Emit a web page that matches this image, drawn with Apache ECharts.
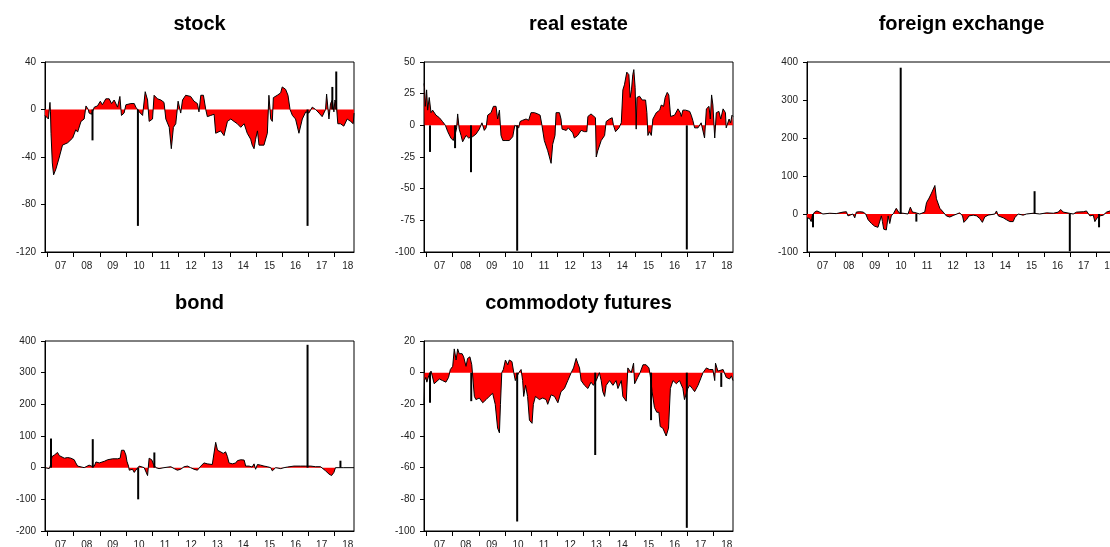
<!DOCTYPE html>
<html><head><meta charset="utf-8">
<script src="https://cdn.jsdelivr.net/npm/echarts@6/dist/echarts.min.js"></script>
<style>html,body{margin:0;padding:0;background:#fff}#c{width:1110px;height:547px}</style>
</head><body><div id="c"></div>
<script>
const titles = ['stock', 'real estate', 'foreign exchange', 'bond', 'commodoty futures'];
const yearTicks = [2007, 2008, 2009, 2010, 2011, 2012, 2013, 2014, 2015, 2016, 2017, 2018];
const yearLabels = ['07', '08', '09', '10', '11', '12', '13', '14', '15', '16', '17', '18'];

// [decimal year, value]
const stock = [[2006.9,-5],[2007.03,-8],[2007.08,-8],[2007.09,6],[2007.11,-2],[2007.13,-20],[2007.18,-45],[2007.23,-55],[2007.32,-50],[2007.45,-40],[2007.57,-30],[2007.77,-28],[2007.96,-24],[2008.08,-17],[2008.15,-19],[2008.28,-10],[2008.40,-8],[2008.47,3],[2008.56,0],[2008.59,-3],[2008.68,-4],[2008.79,2],[2008.91,3],[2009.02,7],[2009.10,4],[2009.23,9],[2009.36,9],[2009.45,5],[2009.55,8],[2009.68,2],[2009.77,11],[2009.83,-5],[2009.93,-3],[2010.00,4],[2010.19,5],[2010.32,5],[2010.38,2],[2010.51,-2],[2010.64,-5],[2010.74,15],[2010.83,8],[2010.89,-10],[2011.02,-8],[2011.08,12],[2011.21,9],[2011.34,8],[2011.46,6],[2011.53,-8],[2011.66,-15],[2011.74,-33],[2011.82,-15],[2011.91,-12],[2012.00,7],[2012.10,-3],[2012.17,8],[2012.29,12],[2012.48,11],[2012.61,7],[2012.74,5],[2012.80,-2],[2012.87,12],[2012.97,12],[2013.06,0],[2013.12,-6],[2013.25,-5],[2013.38,-4],[2013.44,-20],[2013.63,-18],[2013.76,-22],[2013.89,-10],[2014.02,-8],[2014.14,-10],[2014.27,-12],[2014.40,-15],[2014.53,-12],[2014.65,-20],[2014.78,-25],[2014.84,-30],[2014.91,-33],[2014.97,-25],[2015.04,-18],[2015.10,-30],[2015.29,-30],[2015.42,-20],[2015.48,12],[2015.55,-8],[2015.61,-10],[2015.65,10],[2015.80,12],[2015.93,14],[2015.99,19],[2016.12,17],[2016.21,12],[2016.29,0],[2016.38,-5],[2016.50,-8],[2016.63,-20],[2016.76,-8],[2016.89,-2],[2017.01,-3],[2017.14,2],[2017.27,0],[2017.40,-3],[2017.52,-6],[2017.65,0],[2017.69,13],[2017.78,-8],[2017.84,5],[2017.91,8],[2017.97,-2],[2018.01,8],[2018.06,5],[2018.12,-12],[2018.22,-12],[2018.35,-14],[2018.48,-8],[2018.61,-10],[2018.71,-12],[2018.74,-3]];
const stockSpikes = [[2008.72,-26],[2010.46,-98],[2016.96,-98],[2017.91,19],[2018.06,32]];

const realEstate = [[2006.9,33],[2006.92,30],[2006.95,15],[2007.00,28],[2007.04,12],[2007.10,22],[2007.17,10],[2007.23,12],[2007.36,8],[2007.49,6],[2007.61,3],[2007.72,0],[2007.81,-5],[2007.93,-10],[2008.02,-12],[2008.12,-5],[2008.15,-2],[2008.19,9],[2008.25,-3],[2008.32,-8],[2008.38,-13],[2008.51,-8],[2008.61,-10],[2008.76,-9],[2008.89,-7],[2009.02,-3],[2009.12,2],[2009.21,-4],[2009.28,-2],[2009.34,8],[2009.47,10],[2009.56,15],[2009.66,15],[2009.72,5],[2009.79,12],[2009.85,-8],[2009.92,-12],[2010.04,-12],[2010.17,-12],[2010.30,-9],[2010.38,0],[2010.53,-2],[2010.58,3],[2010.68,4],[2010.81,5],[2010.91,4],[2011.00,10],[2011.13,10],[2011.26,9],[2011.35,8],[2011.42,0],[2011.51,-12],[2011.64,-20],[2011.77,-30],[2011.83,-15],[2011.92,-8],[2011.96,10],[2012.09,10],[2012.15,5],[2012.19,-3],[2012.35,-4],[2012.43,-2],[2012.51,-4],[2012.60,-6],[2012.66,-10],[2012.79,-8],[2012.92,-4],[2013.05,-5],[2013.14,-5],[2013.18,7],[2013.30,9],[2013.47,6],[2013.50,-25],[2013.56,-20],[2013.69,-12],[2013.82,-8],[2013.88,3],[2014.01,5],[2014.11,6],[2014.16,0],[2014.24,-5],[2014.37,-2],[2014.46,2],[2014.52,28],[2014.58,32],[2014.67,42],[2014.75,40],[2014.80,22],[2014.85,28],[2014.90,40],[2014.94,44],[2014.99,30],[2015.03,-3],[2015.06,22],[2015.16,23],[2015.26,20],[2015.39,20],[2015.44,10],[2015.48,-8],[2015.54,-5],[2015.61,-8],[2015.67,5],[2015.80,10],[2015.93,12],[2015.99,16],[2016.08,15],[2016.14,22],[2016.22,26],[2016.28,24],[2016.35,7],[2016.50,8],[2016.63,13],[2016.72,10],[2016.76,7],[2016.82,12],[2016.92,12],[2017.08,11],[2017.14,8],[2017.20,4],[2017.27,-2],[2017.40,-2],[2017.52,2],[2017.59,1],[2017.65,-10],[2017.72,13],[2017.82,15],[2017.87,5],[2017.92,24],[2017.97,16],[2018.04,-10],[2018.10,10],[2018.20,11],[2018.27,5],[2018.36,13],[2018.45,10],[2018.48,-2],[2018.59,5],[2018.65,2],[2018.70,8],[2018.74,7]];
const realEstateSpikes = [[2007.13,-21],[2008.09,-18],[2008.70,-37],[2010.47,-99],[2016.97,-98]];

const forex = [[2006.9,-10],[2006.94,-15],[2007.00,-12],[2007.06,-20],[2007.10,-5],[2007.19,5],[2007.28,8],[2007.38,5],[2007.51,0],[2007.77,2],[2008.02,1],[2008.28,5],[2008.41,6],[2008.47,-5],[2008.53,-10],[2008.66,0],[2008.73,-10],[2008.79,5],[2008.92,6],[2009.05,5],[2009.15,0],[2009.24,-15],[2009.37,-25],[2009.49,-32],[2009.62,-35],[2009.69,-30],[2009.75,-5],[2009.79,-20],[2009.84,-40],[2009.94,-42],[2010.01,-5],[2010.07,-25],[2010.13,-5],[2010.22,2],[2010.32,15],[2010.43,3],[2010.58,2],[2010.77,0],[2010.86,18],[2010.94,5],[2011.03,4],[2011.22,0],[2011.41,5],[2011.48,30],[2011.58,42],[2011.67,55],[2011.73,60],[2011.80,75],[2011.86,40],[2011.92,38],[2011.99,15],[2012.12,5],[2012.24,-5],[2012.37,-8],[2012.50,-4],[2012.75,3],[2012.86,-5],[2012.91,-22],[2013.01,-15],[2013.11,-5],[2013.27,-3],[2013.40,-5],[2013.52,-12],[2013.62,-22],[2013.71,-8],[2013.84,-3],[2014.10,0],[2014.16,8],[2014.23,-5],[2014.42,-10],[2014.54,-15],[2014.67,-20],[2014.74,-15],[2014.80,-20],[2014.86,-10],[2014.99,0],[2015.06,3],[2015.18,-3],[2015.31,0],[2015.57,2],[2015.82,0],[2016.08,3],[2016.34,2],[2016.53,5],[2016.62,12],[2016.72,5],[2016.78,0],[2017.10,0],[2017.23,5],[2017.49,6],[2017.61,8],[2017.74,-5],[2017.87,-3],[2017.93,-20],[2018.02,-10],[2018.13,-5],[2018.25,-3],[2018.38,5],[2018.45,10],[2018.51,8],[2018.62,5],[2018.74,3]];
const forexSpikes = [[2007.13,-35],[2010.49,385],[2011.09,-20],[2015.62,60],[2016.97,-98],[2018.09,-35]];

const bond = [[2006.9,0],[2007.06,-3],[2007.10,5],[2007.17,35],[2007.26,40],[2007.32,45],[2007.38,48],[2007.45,38],[2007.51,37],[2007.64,30],[2007.77,32],[2007.89,30],[2007.96,30],[2008.02,25],[2008.08,15],[2008.15,5],[2008.21,0],[2008.40,0],[2008.47,5],[2008.59,8],[2008.68,5],[2008.79,5],[2008.85,18],[2008.98,15],[2009.04,12],[2009.17,20],[2009.30,25],[2009.49,28],[2009.68,28],[2009.78,30],[2009.83,55],[2009.93,55],[2010.00,40],[2010.04,20],[2010.10,5],[2010.13,-8],[2010.25,-5],[2010.32,-15],[2010.38,-8],[2010.51,5],[2010.57,3],[2010.70,0],[2010.83,-25],[2010.89,30],[2010.99,25],[2011.06,10],[2011.15,0],[2011.27,-3],[2011.46,0],[2011.72,3],[2011.85,-3],[2011.97,-8],[2012.10,-5],[2012.23,3],[2012.36,5],[2012.48,0],[2012.61,-5],[2012.74,-8],[2012.87,5],[2012.99,15],[2013.12,12],[2013.31,10],[2013.38,10],[2013.44,80],[2013.51,55],[2013.63,50],[2013.73,45],[2013.82,50],[2013.89,35],[2013.95,15],[2014.08,12],[2014.21,15],[2014.27,22],[2014.40,25],[2014.53,24],[2014.59,5],[2014.72,5],[2014.84,2],[2014.91,12],[2014.97,-5],[2015.04,10],[2015.16,8],[2015.29,5],[2015.42,3],[2015.55,0],[2015.61,-10],[2015.74,0],[2015.93,-3],[2016.06,0],[2016.19,2],[2016.44,5],[2016.69,5],[2016.89,5],[2017.08,5],[2017.27,3],[2017.46,3],[2017.65,-10],[2017.78,-20],[2017.88,-25],[2017.97,-15],[2018.03,0],[2018.35,0],[2018.74,0]];
const bondSpikes = [[2007.13,92],[2008.73,90],[2010.47,-100],[2011.09,48],[2016.96,388],[2018.22,22]];

const commodity = [[2006.9,-20],[2006.92,-5],[2006.97,-3],[2007.01,-6],[2007.08,-2],[2007.17,1],[2007.23,0],[2007.29,-7],[2007.36,-8],[2007.49,-4],[2007.61,-5],[2007.74,-6],[2007.84,-3],[2007.91,2],[2008.00,4],[2008.06,15],[2008.13,8],[2008.19,15],[2008.25,12],[2008.36,12],[2008.42,10],[2008.51,4],[2008.57,9],[2008.66,10],[2008.73,5],[2008.76,5],[2008.83,-15],[2008.89,-17],[2009.02,-16],[2009.15,-19],[2009.28,-17],[2009.40,-15],[2009.53,-13],[2009.63,-20],[2009.72,-35],[2009.79,-38],[2009.83,-20],[2009.88,0],[2009.94,2],[2010.02,8],[2010.11,5],[2010.17,8],[2010.27,7],[2010.34,0],[2010.40,-5],[2010.53,0],[2010.62,2],[2010.68,-5],[2010.72,-15],[2010.79,-8],[2010.87,-15],[2010.94,-30],[2011.04,-32],[2011.09,-20],[2011.17,-15],[2011.32,-17],[2011.45,-16],[2011.58,-17],[2011.64,-20],[2011.77,-14],[2011.90,-15],[2012.03,-19],[2012.15,-12],[2012.28,-10],[2012.41,-5],[2012.54,0],[2012.63,3],[2012.73,9],[2012.79,6],[2012.86,3],[2012.92,-5],[2013.05,-8],[2013.18,-10],[2013.30,-6],[2013.39,-8],[2013.50,-5],[2013.62,0],[2013.69,-5],[2013.75,-12],[2013.82,-15],[2013.88,-8],[2014.01,-5],[2014.14,-8],[2014.26,-5],[2014.33,-10],[2014.46,-5],[2014.52,-15],[2014.65,-18],[2014.71,3],[2014.84,0],[2014.93,6],[2014.97,-7],[2015.09,-3],[2015.18,0],[2015.29,5],[2015.41,5],[2015.52,3],[2015.57,-2],[2015.64,-12],[2015.73,-22],[2015.82,-25],[2015.90,-25],[2015.95,-34],[2016.05,-35],[2016.18,-40],[2016.27,-35],[2016.34,-10],[2016.44,-5],[2016.57,-7],[2016.69,-5],[2016.82,-10],[2016.88,-17],[2017.01,-10],[2017.08,-8],[2017.18,-10],[2017.27,-12],[2017.40,-8],[2017.52,-3],[2017.59,0],[2017.72,3],[2017.84,2],[2017.91,3],[2017.97,2],[2018.04,-5],[2018.07,6],[2018.16,1],[2018.23,2],[2018.36,2],[2018.48,-3],[2018.61,-4],[2018.68,-2],[2018.74,-5]];
const commoditySpikes = [[2007.13,-19],[2008.71,-18],[2010.47,-94],[2013.46,-52],[2015.60,-30],[2016.97,-98],[2018.29,-9]];

const seriesData = [stock, realEstate, forex, bond, commodity];
const spikeData = [stockSpikes, realEstateSpikes, forexSpikes, bondSpikes, commoditySpikes];
const yMin = [-120, -100, -100, -200, -100];
const yMax = [40, 50, 400, 400, 20];
const yStep = [40, 25, 100, 100, 20];

const boxes = [[45, 62], [424, 62], [807, 62], [45, 341], [424, 341]];
const boxW = 309, boxH = 190;
const FONT = 'Liberation Sans, Arial, sans-serif';

const chart = echarts.init(document.getElementById('c'), null, {renderer: 'canvas'});
const grid = [], xAxis = [], yAxis = [], series = [], title = [];
const labelPos = yearTicks.map(y => y + 0.5);

for (let i = 0; i < 5; i++) {
  const [l, t] = boxes[i];
  grid.push({left: l, top: t, width: boxW, height: boxH, show: true,
    borderColor: '#000', borderWidth: 1, backgroundColor: '#fff',
    containLabel: false, outerBoundsMode: 'none'});
  title.push({text: titles[i], left: l + boxW / 2, top: t - 48, textAlign: 'center', padding: 0,
    textStyle: {fontSize: 20, fontWeight: 'bold', color: '#000', fontFamily: FONT}});
  xAxis.push({type: 'value', gridIndex: i, min: 2006.9, max: 2018.74,
    axisLine: {show: true, onZero: false, lineStyle: {color: '#000', width: 1}},
    axisTick: {show: true, inside: false, length: 5, customValues: yearTicks, lineStyle: {color: '#000'}},
    axisLabel: {show: true, customValues: labelPos, margin: 9, fontSize: 10, color: '#222', fontFamily: FONT,
      formatter: v => yearLabels[Math.round(v - 2007.5)] || ''},
    splitLine: {show: false}});
  yAxis.push({type: 'value', gridIndex: i, min: yMin[i], max: yMax[i], interval: yStep[i],
    axisLine: {show: true, onZero: false, lineStyle: {color: '#000', width: 1}},
    axisTick: {show: true, inside: false, length: 4, lineStyle: {color: '#000'}},
    axisLabel: {margin: 9, fontSize: 10, color: '#222', fontFamily: FONT, padding: [0, 0, 4, 0]},
    splitLine: {show: false}});
  series.push({type: 'line', xAxisIndex: i, yAxisIndex: i, data: seriesData[i],
    symbol: 'none', showSymbol: false, clip: true,
    lineStyle: {color: '#000', width: 1},
    areaStyle: {color: '#ff0000', opacity: 1, origin: 0}, z: 2, silent: true});
  series.push({type: 'bar', xAxisIndex: i, yAxisIndex: i, data: spikeData[i],
    barWidth: 2, itemStyle: {color: '#000'}, z: 3, silent: true});
}

chart.setOption({animation: false, backgroundColor: '#fff', title, grid, xAxis, yAxis, series});
</script></body></html>
